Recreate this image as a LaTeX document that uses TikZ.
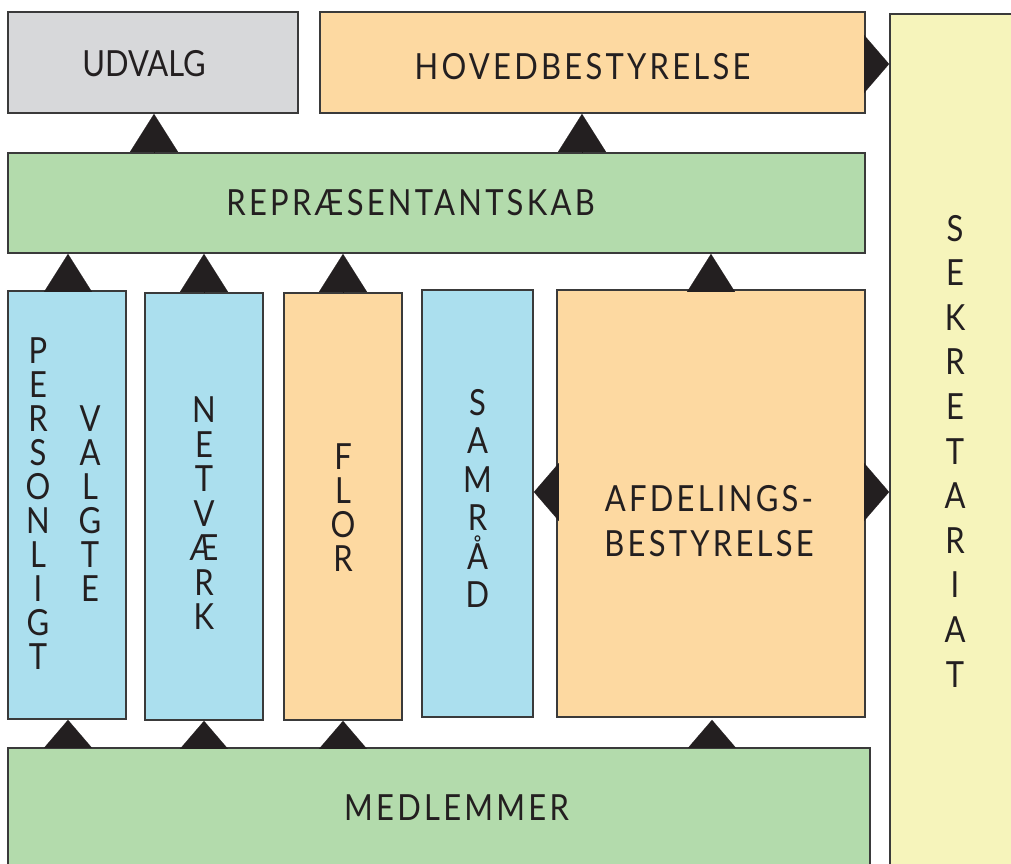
\documentclass[tikz,border=0pt]{standalone}
\usepackage{fontspec}
\setmainfont{Lato}[FakeStretch=0.86]
\newfontfamily\spaced{Lato}[FakeStretch=0.86, LetterSpace=9]
\usepackage{tikz}
\usetikzlibrary{
    arrows.meta,
    calc,
    positioning
}

\definecolor{greybox}{HTML}{D7D8DA}
\definecolor{orangebox}{HTML}{FDD9A1}
\definecolor{yellowbox}{HTML}{F6F4BB}
\definecolor{greenbox}{HTML}{B3DBAC}
\definecolor{bluebox}{HTML}{ABDFEE}
\definecolor{ink}{HTML}{231F20}
\definecolor{rim}{HTML}{3A3A3A}

\begin{document}
\begin{tikzpicture}[x=1pt, y=-1pt,
        box/.style={draw=rim, line width=1.8pt, rectangle, inner sep=0pt},
        title/.style={text=ink, inner sep=0pt, font=\spaced\fontsize{36}{34}\selectfont},
        stack/.style={align=center, text=ink, inner sep=0pt, font=\fontsize{36}{34}\selectfont},
        up/.style={-{Triangle[length=38pt, width=48pt]}, ink, line width=0.1pt},
        upshort/.style={-{Triangle[length=28pt, width=48pt]}, ink, line width=0.1pt},
        side/.style={-{Triangle[length=25pt, width=58pt]}, ink, line width=0.1pt}]
    \useasboundingbox (0,0) rectangle (1011,863);

    % top row
    \node[box, fill=greybox, minimum width=290pt, minimum height=101pt] (udvalg) at (153, 62.5) {};
    \node[title, font=\fontsize{36}{34}\selectfont] (udvalgtxt) at (144, 63.5) {UDVALG};
    \node[box, fill=orangebox, minimum width=545pt, minimum height=101pt] (hoved) at (592.5, 62.5) {};
    \node[title] (hovedtxt) at (582.5, 66.5) {HOVEDBESTYRELSE};
    \node[box, fill=yellowbox, minimum width=130pt, minimum height=861pt] (sekr) at (955, 444.5) {};
    \node[stack, font=\fontsize{36}{44.6}\selectfont] (sekrtxt) at (955, 451) {S\\E\\K\\R\\E\\T\\A\\R\\I\\A\\T};

    \node[box, fill=greenbox, minimum width=857pt, minimum height=100pt] (repr) at (436.5, 203) {};
    \node[title] (reprtxt) at (410.5, 202.5) {REPRÆSENTANTSKAB};

    % middle row
    \node[box, fill=bluebox, minimum width=118pt, minimum height=428pt] (pers) at (67, 505) {};
    \node[stack] (perstxt) at (38, 503.5) {P\\E\\R\\S\\O\\N\\L\\I\\G\\T};
    \node[stack] (valgtxt) at (90, 503.5) {V\\A\\L\\G\\T\\E};
    \node[box, fill=bluebox, minimum width=118pt, minimum height=427pt] (netv) at (204, 506.5) {};
    \node[stack, font=\fontsize{36}{34.5}\selectfont] (netvtxt) at (204, 513.5) {N\\E\\T\\V\\Æ\\R\\K};
    \node[box, fill=orangebox, minimum width=118pt, minimum height=427pt] (flor) at (343, 506.5) {};
    \node[stack] (flortxt) at (343, 507.5) {F\\L\\O\\R};
    \node[box, fill=bluebox, minimum width=111pt, minimum height=427pt] (samr) at (477.5, 503.5) {};
    \node[stack, font=\fontsize{36}{38.5}\selectfont] (samrtxt) at (477.5, 498.5) {S\\A\\M\\R\\Å\\D};
    \node[box, fill=orangebox, minimum width=308pt, minimum height=427pt] (afd) at (711, 503.5) {};
    \node[stack, font=\spaced\fontsize{36}{45}\selectfont] (afdtxt) at (709, 521.5) {AFDELINGS-\\BESTYRELSE};

    % bottom row
    \node[box, fill=greenbox, minimum width=862pt, minimum height=127pt] (medl) at (439, 811.5) {};
    \node[title] (medltxt) at (456.5, 807.5) {MEDLEMMER};

    % connectors
    \draw[up] (repr.north -| 154,0) -- (udvalg.south -| 154,0);
    \draw[up] (repr.north -| 582,0) -- (hoved.south -| 582,0);
    \draw[side] (hoved.east |- 0,64) -- (sekr.west |- 0,64);
    \draw[up] (pers.north -| 68,0) -- (repr.south -| 68,0);
    \draw[up] (netv.north) -- (repr.south -| netv.north);
    \draw[up] (flor.north) -- (repr.south -| flor.north);
    \draw[up] (afd.north) -- (repr.south -| afd.north);
    \draw[side] (afd.west |- 0,492) -- (samr.east |- 0,492);
    \draw[side] (afd.east |- 0,492) -- (sekr.west |- 0,492);
    \draw[upshort] (medl.north -| 68,0) -- (pers.south -| 68,0);
    \draw[upshort] (medl.north -| netv.south) -- (netv.south);
    \draw[upshort] (medl.north -| flor.south) -- (flor.south);
    \draw[upshort, shorten >=2pt] (medl.north -| 712,0) -- (afd.south -| 712,0);
\end{tikzpicture}
\end{document}
